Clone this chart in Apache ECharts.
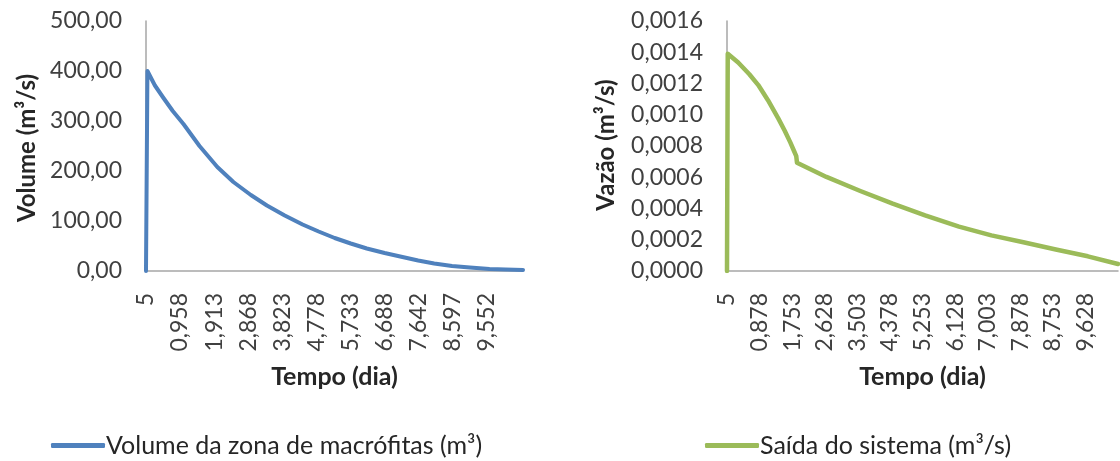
<!DOCTYPE html>
<html>
<head>
<meta charset="utf-8">
<script src="https://cdn.jsdelivr.net/npm/echarts@6/dist/echarts.min.js"></script>
<style>
html,body{margin:0;padding:0;background:#fff;}
#c{width:1120px;height:461px;}
</style>
</head>
<body>
<div id="c"></div>
<script>
// ---- Left chart: Volume da zona de macrófitas (m³) ----
const volTicks = ["5","0,958","1,913","2,868","3,823","4,778","5,733","6,688","7,642","8,597","9,552"];
const volTime  = [0, 0.04, 0.25, 0.5, 0.75, 1.05, 1.5, 2.0, 2.45, 2.94, 3.39, 3.89, 4.39, 4.84, 5.29, 5.74, 6.19, 6.69, 7.19, 7.63, 8.08, 8.58, 9.08, 9.63, 10.08, 10.57];
const volValue = [0, 400, 371, 345, 320, 294, 250, 208, 178, 152, 131, 111, 93, 79, 66, 55, 45, 36, 28, 21, 15, 10, 7, 4, 3, 2];

// ---- Right chart: Saída do sistema (m³/s) ----
const flowTicks = ["5","0,878","1,753","2,628","3,503","4,378","5,253","6,128","7,003","7,878","8,753","9,628"];
const flowTime  = [0, 0.02, 0.3, 0.6, 0.84, 1.1, 1.38, 1.55, 1.70, 1.80, 1.86, 1.88, 2.67, 3.58, 4.45, 5.32, 6.23, 7.10, 7.96, 8.83, 9.69, 10.5];
const flowValue = [0, 0.00139, 0.001334, 0.001259, 0.00119, 0.001093, 0.000975, 0.000898, 0.000823, 0.000768, 0.000735, 0.000693, 0.000602, 0.000512, 0.000431, 0.000356, 0.000284, 0.000228, 0.000184, 0.000138, 0.000094, 0.000045];

const volInterval = 0.955, flowInterval = 0.875;
const FONT = 'Lato';
const axisGray = '#A6A6A6';
const txt = '#404040';
const titleColor = '#262626';

const chart = echarts.init(document.getElementById('c'), null, {renderer:'canvas'});
function pairs(xs, ys){ return xs.map((x,i)=>[x, ys[i]]); }

function xAx(gi, interval, max, ticks){
  return {
    type:'value', gridIndex:gi, min:0, max:max, interval:interval,
    splitLine:{show:false}, axisTick:{show:false},
    axisLine:{lineStyle:{color:axisGray, width:1.5}},
    axisLabel:{rotate:90, margin:22, color:txt, fontFamily:FONT, fontSize:23,
      showMaxLabel:false,
      formatter:(v)=>{ const i = Math.round(v/interval); return ticks[i] !== undefined ? ticks[i] : ''; }},
    name:'Tempo (dia)', nameLocation:'middle', nameGap:93,
    nameTextStyle:{fontFamily:FONT, fontWeight:'bold', fontSize:25, color:titleColor}
  };
}
function yAx(gi, max, interval, dec){
  return {
    type:'value', gridIndex:gi, min:0, max:max, interval:interval,
    splitLine:{show:false}, axisTick:{show:false},
    axisLine:{show:true, lineStyle:{color:axisGray, width:1.5}},
    axisLabel:{margin:24, color:txt, fontFamily:FONT, fontSize:23,
      formatter:(v)=>v.toFixed(dec).replace('.',',')}
  };
}
function yTitle(text, x, y){
  return {type:'text', x:x, y:y, rotation:Math.PI/2,
    style:{text:text, fill:titleColor, font:'bold 24px Lato', align:'center', verticalAlign:'middle'}};
}

chart.setOption({
  animation:false,
  grid:[
    {left:146, top:21, width:377, height:250},
    {left:727, top:21, width:391, height:250}
  ],
  xAxis:[ xAx(0, volInterval, 10.57, volTicks), xAx(1, flowInterval, 10.5, flowTicks) ],
  yAxis:[ yAx(0, 500, 100, 2), yAx(1, 0.0016, 0.0002, 4) ],
  graphic:[ yTitle('Volume (m³/s)', 27, 148), yTitle('Vazão (m³/s)', 606, 145) ],
  legend:[
    {left:46, top:428, itemWidth:54, itemHeight:5, itemGap:4, icon:'roundRect',
     textStyle:{fontFamily:FONT, fontSize:25, color:titleColor, padding:[0,0,0,-4]},
     data:['Volume da zona de macrófitas (m³)']},
    {left:700, top:428, itemWidth:54, itemHeight:5, itemGap:4, icon:'roundRect',
     textStyle:{fontFamily:FONT, fontSize:25, color:titleColor, padding:[0,0,0,-4]},
     data:['Saída do sistema (m³/s)']}
  ],
  series:[
    {name:'Volume da zona de macrófitas (m³)', type:'line', xAxisIndex:0, yAxisIndex:0,
     data:pairs(volTime, volValue), showSymbol:false, smooth:false, color:'#4F81BD',
     lineStyle:{width:4, color:'#4F81BD', cap:'round', join:'round'}},
    {name:'Saída do sistema (m³/s)', type:'line', xAxisIndex:1, yAxisIndex:1,
     data:pairs(flowTime, flowValue), showSymbol:false, smooth:false, color:'#9BBB59',
     lineStyle:{width:4.5, color:'#9BBB59', cap:'round', join:'round'}}
  ]
});
</script>
</body>
</html>
